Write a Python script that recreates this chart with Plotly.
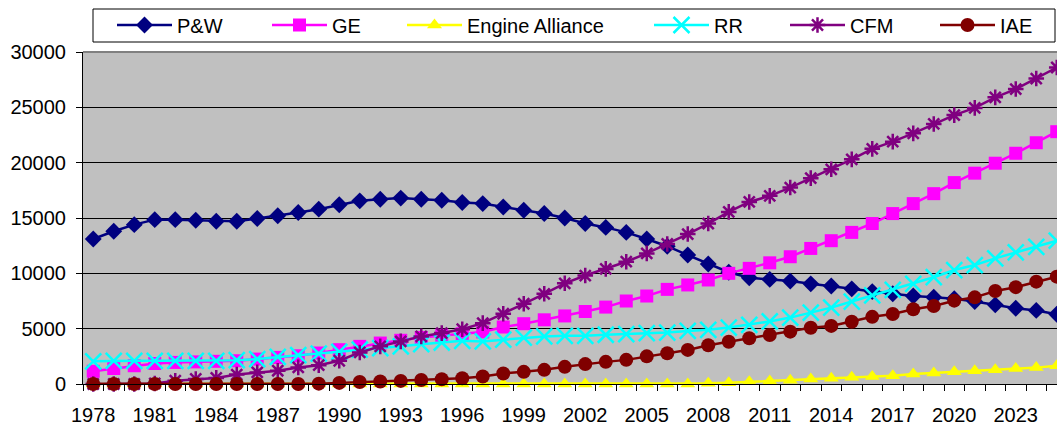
import plotly.graph_objects as go

years = list(range(1978, 2026))

pw = [13100, 13800, 14400, 14850, 14850, 14800, 14700, 14700, 14950, 15200,
      15500, 15800, 16200, 16550, 16700, 16800, 16700, 16600, 16400, 16300,
      16000, 15700, 15400, 15000, 14500, 14150, 13700, 13100, 12450, 11650,
      10850, 10100, 9600, 9450, 9300, 9050, 8850, 8600, 8350, 8150,
      7950, 7850, 7700, 7450, 7150, 6850, 6650, 6300]
ge = [1150, 1400, 1650, 1850, 1950, 2000, 2050, 2100, 2250, 2400,
      2550, 2800, 3100, 3400, 3700, 3950, 4200, 4400, 4550, 4700,
      5150, 5450, 5800, 6150, 6550, 6950, 7500, 7950, 8550, 8950,
      9400, 10000, 10450, 10950, 11500, 12250, 12950, 13700, 14500, 15400,
      16300, 17200, 18200, 19050, 19950, 20850, 21800, 22800]
ea = [0, 0, 0, 0, 0, 0, 0, 0, 0, 0,
      0, 0, 0, 0, 0, 0, 0, 0, 0, 0,
      0, 0, 0, 0, 0, 0, 0, 0, 0, 0,
      60, 120, 200, 270, 350, 450, 520, 600, 670, 750,
      900, 1000, 1100, 1200, 1280, 1400, 1480, 1650]
rr = [2050, 2100, 2100, 2100, 2100, 2100, 2100, 2150, 2250, 2450,
      2600, 2750, 2900, 3100, 3250, 3400, 3600, 3750, 3900, 3850,
      4000, 4200, 4300, 4350, 4350, 4450, 4500, 4600, 4650, 4800,
      4900, 5100, 5350, 5650, 6000, 6450, 6900, 7450, 8000, 8500,
      9050, 9650, 10300, 10750, 11350, 11900, 12400, 12950]
cfm = [0, 0, 0, 50, 300, 450, 550, 850, 1050, 1200,
       1500, 1700, 2100, 2850, 3400, 3850, 4300, 4600, 4950, 5500,
       6350, 7250, 8150, 9100, 9800, 10400, 11050, 11800, 12650, 13550,
       14500, 15550, 16450, 17000, 17750, 18600, 19400, 20300, 21250, 21900,
       22650, 23500, 24300, 24950, 25900, 26650, 27600, 28600]
iae = [0, 0, 0, 0, 0, 0, 0, 0, 0, 0,
       0, 30, 100, 180, 220, 280, 360, 430, 520, 680,
       950, 1100, 1280, 1550, 1800, 2000, 2180, 2500, 2780, 3080,
       3500, 3820, 4130, 4430, 4730, 5080, 5250, 5630, 6070, 6330,
       6750, 7050, 7530, 7830, 8400, 8750, 9250, 9700]

tick_years = years[::3]

W, H = 1057, 426
# plot area in pixels
L, R, T, B = 83, 1057, 52, 384


def px(x):
    return (x - L) / (R - L)


def py(y):
    return (B - y) / (B - T)


series = [
    ('P&W', pw, '#000080', 'diamond', 13, 0),
    ('GE', ge, '#FF00FF', 'square', 13, 0),
    ('Engine Alliance', ea, '#FFFF00', 'triangle-up', 13, 0),
    ('RR', rr, '#00FFFF', 'x-thin-open', 16, 2.5),
    ('CFM', cfm, '#800080', 'asterisk-open', 13, 2.5),
    ('IAE', iae, '#800000', 'circle', 14, 0),
]
# left end of each legend line, px
leg_starts = [118, 273, 408, 655, 791, 941]

fig = go.Figure()
legend_layout = {}
for i, (name, vals, col, sym, size, lw) in enumerate(series):
    lname = 'legend' if i == 0 else f'legend{i + 1}'
    fig.add_trace(go.Scatter(
        x=years, y=vals, name=name, mode='lines+markers',
        line=dict(color=col, width=2.5),
        marker=dict(symbol=sym, size=size, color=col,
                    line=dict(color=col, width=lw)),
        cliponaxis=False,
        legend=lname, showlegend=True,
    ))
    legend_layout[lname] = dict(
        x=px(leg_starts[i] - 6), y=py(25), xanchor='left', yanchor='middle',
        orientation='h', bgcolor='rgba(0,0,0,0)', borderwidth=0,
        itemwidth=55, font=dict(family='Liberation Sans, Arial', size=20, color='black'),
    )

fig.update_layout(
    width=W, height=H,
    showlegend=True,
    margin=dict(l=L, r=W - R, t=T, b=H - B, autoexpand=False),
    paper_bgcolor='white',
    plot_bgcolor='#C0C0C0',
    font=dict(family='Liberation Sans, Arial', size=20, color='black'),
    xaxis=dict(
        range=[1977.5, 1977.5 + (R - L) / 20.5],
        tickmode='array', tickvals=tick_years, ticktext=[str(y) for y in tick_years],
        ticks='', showgrid=False, zeroline=False,
        showline=True, linecolor='black', linewidth=1,
        minor=dict(ticks='outside', ticklen=6, tickcolor='black', tick0=1977.5, dtick=1, showgrid=False),
        tickfont=dict(size=20), ticklabelstandoff=13,
    ),
    yaxis=dict(
        range=[0, 30000], dtick=5000, tick0=0, tickformat='d',
        ticks='outside', ticklen=6, tickcolor='black',
        showgrid=True, gridcolor='black', gridwidth=1,
        zeroline=False, showline=True, linecolor='black', linewidth=1,
        tickfont=dict(size=20), ticklabelstandoff=6,
    ),
    shapes=[
        dict(type='line', xref='paper', yref='paper', x0=0, x1=1, y0=1, y1=1,
             line=dict(color='#808080', width=2)),
        dict(type='rect', xref='paper', yref='paper',
             x0=px(93), x1=px(1055), y0=py(42), y1=py(9),
             line=dict(color='black', width=1), fillcolor='white', layer='below'),
    ],
    **legend_layout,
)

# drop the page's default body margin so the figure sits at (0, 0)
fig.write_html(
    'out.html',
    config={'responsive': False, 'displayModeBar': False},
    post_script="document.body.style.margin='0';document.documentElement.style.overflow='hidden';",
)
